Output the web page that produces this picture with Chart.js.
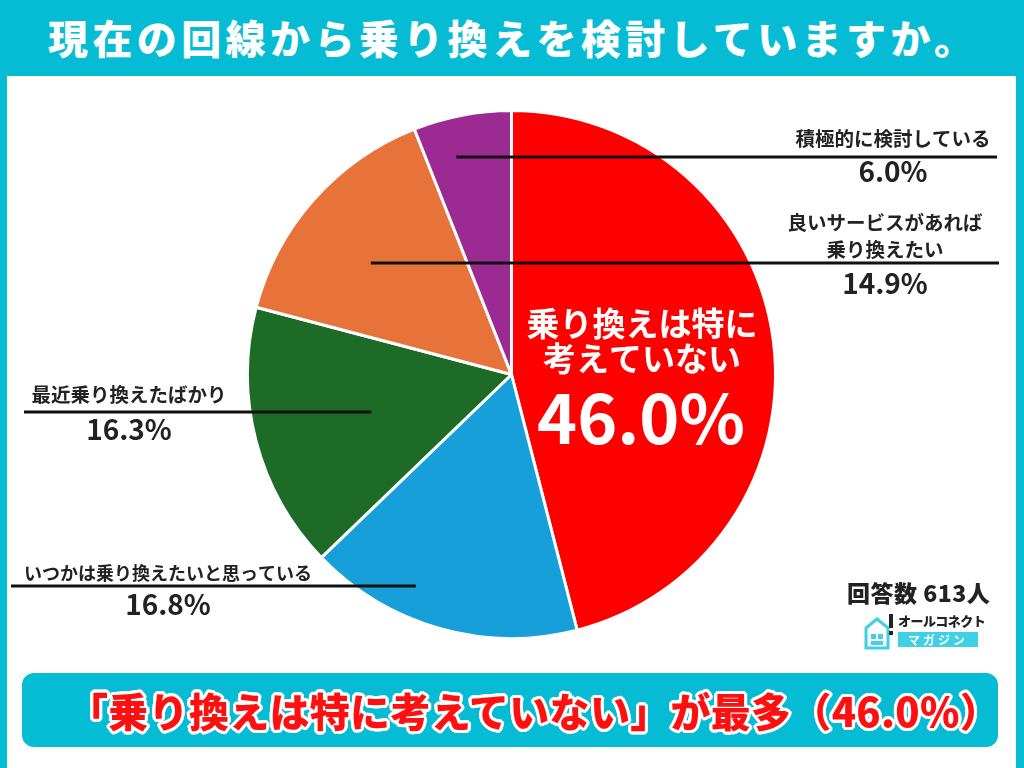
<!DOCTYPE html>
<html lang="ja">
<head>
<meta charset="utf-8">
<script src="https://cdn.jsdelivr.net/npm/chart.js@4"></script>
<style>
  html, body { margin: 0; padding: 0; }
  body {
    width: 1024px; height: 768px; overflow: hidden; position: relative;
    background: #06bcd4;
    font-family: "Noto Sans CJK JP", "Noto Sans", sans-serif;
  }
  .title {
    position: absolute; left: 48px; top: 14px; height: 46px; line-height: 46px;
    color: #fff; font-size: 40px; font-weight: 900; letter-spacing: 4.4px; white-space: nowrap;
  }
  .panel {
    position: absolute; left: 7px; top: 76px; width: 1009px; height: 692px; background: #fff;
  }
  #pie { position: absolute; left: 0; top: 0; }
  .count {
    position: absolute; left: 847px; top: 575px; font-size: 23px; font-weight: 900; color: #222;
    white-space: nowrap; letter-spacing: 0.5px;
  }
  .logo { position: absolute; left: 863px; top: 612px; width: 120px; height: 40px; }
  .logo .t1 {
    position: absolute; left: 35px; top: 1px; font-size: 13px; font-weight: 900; color: #222;
    letter-spacing: -0.5px; white-space: nowrap; line-height: 16px;
  }
  .logo .t2 {
    position: absolute; left: 35px; top: 20px; width: 80px; height: 15px; background: #3fd0e6;
    color: #fff; font-size: 12px; font-weight: 700; line-height: 15px; text-align: center; letter-spacing: 3px;
  }
  .callout {
    position: absolute; left: 22px; top: 673px; width: 976px; height: 74px; background: #06bcd4;
    border-radius: 12px;
  }
  .callout span {
    position: absolute; left: 46px; top: 12px; line-height: 50px; font-size: 40px; font-weight: 900;
    color: #ff1010; white-space: nowrap; letter-spacing: 0.3px;
    text-shadow: 3px 0 0 #fff, -3px 0 0 #fff, 0 3px 0 #fff, 0 -3px 0 #fff,
      2px 2px 0 #fff, -2px 2px 0 #fff, 2px -2px 0 #fff, -2px -2px 0 #fff,
      3px 1px 0 #fff, -3px 1px 0 #fff, 3px -1px 0 #fff, -3px -1px 0 #fff,
      1px 3px 0 #fff, -1px 3px 0 #fff, 1px -3px 0 #fff, -1px -3px 0 #fff;
  }
</style>
</head>
<body>
<div class="title">現在の回線から乗り換えを検討していますか。</div>
<div class="panel"></div>
<canvas id="pie" width="1024" height="768"></canvas>
<div class="count">回答数 613人</div>
<div class="logo">
  <svg width="32" height="38" viewBox="0 0 32 38">
    <path d="M3 36 V16 L14 7 L25 16 V36 Z" fill="none" stroke="#3fd0e6" stroke-width="3"/>
    <rect x="8" y="22" width="5" height="5" fill="#3fd0e6"/>
    <rect x="15" y="22" width="5" height="5" fill="#3fd0e6"/>
    <rect x="8" y="29" width="12" height="4" fill="#3fd0e6"/>
    <rect x="26" y="2" width="4" height="14" fill="#222"/>
    <rect x="26" y="19" width="4" height="4" fill="#222"/>
  </svg>
  <div class="t1">オールコネクト</div>
  <div class="t2">マガジン</div>
</div>
<div class="callout"><span>「乗り換えは特に考えていない」が最多（46.0%）</span></div>

<script>
// Answers, clockwise from 12 o'clock
const categories = ['乗り換えは特に考えていない', 'いつかは乗り換えたいと思っている', '最近乗り換えたばかり', '良いサービスがあれば乗り換えたい', '積極的に検討している'];
const shares = [46.0, 16.8, 16.3, 14.9, 6.0];
const sliceColors = ['#ff0000', '#179fd9', '#1d6b27', '#e8733a', '#9c2a93'];

// how each category is broken into lines on the chart
const labelLines = [
    ['乗り換えは特に', '考えていない'],
    ['いつかは乗り換えたいと思っている'],
    ['最近乗り換えたばかり'],
    ['良いサービスがあれば', '乗り換えたい'],
    ['積極的に検討している']
];

// leader line placement (anchor along slice, radius fraction, end x, text x, offsets)
const callouts = {
    1: { f: 0.64, rf: 0.88, endX: 11, textX: 168, catDy: -13, pctDy: 18 },
    2: { f: 0.49, rf: 0.55, endX: 24, textX: 129, catDy: -17, pctDy: 17 },
    3: { f: 0.44, rf: 0.68, endX: 999, textX: 885, catDy: -13, pctDy: 20 },
    4: { f: 0.34, rf: 0.85, endX: 997, textX: 893, catDy: -18, pctDy: 14 }
};

const FONT = '"Noto Sans CJK JP", "Noto Sans", sans-serif';
const pct = v => v.toFixed(1) + '%';

const labelPlugin = {
    id: 'pieLabels',
    afterDraw(chart) {
        const ctx = chart.ctx;
        const arcs = chart.getDatasetMeta(0).data;
        ctx.save();
        ctx.textAlign = 'center';
        ctx.textBaseline = 'middle';

        Object.keys(callouts).forEach(k => {
            const i = Number(k);
            const c = callouts[i];
            const a = arcs[i].getProps(['x', 'y', 'startAngle', 'endAngle', 'outerRadius'], true);
            const ang = a.startAngle + (a.endAngle - a.startAngle) * c.f;
            const px = a.x + Math.cos(ang) * a.outerRadius * c.rf;
            const py = Math.round(a.y + Math.sin(ang) * a.outerRadius * c.rf);

            ctx.strokeStyle = '#111';
            ctx.lineWidth = 3;
            ctx.beginPath();
            ctx.moveTo(px, py);
            ctx.lineTo(c.endX, py);
            ctx.stroke();

            ctx.fillStyle = '#222';
            const lines = labelLines[i];
            const fs = i === 1 ? 18 : 19.5;
            ctx.font = '700 ' + fs + 'px ' + FONT;
            lines.forEach((t, j) => {
                const y = py + c.catDy - (lines.length - 1 - j) * 27.5;
                ctx.fillText(t, c.textX, y);
            });
            ctx.font = '700 28px ' + FONT;
            ctx.fillText(pct(shares[i]), c.textX, py + c.pctDy);
        });

        // big label inside the largest slice
        ctx.fillStyle = '#fff';
        ctx.font = '700 33px ' + FONT;
        ctx.fillText(labelLines[0][0], 642, 323);
        ctx.fillText(labelLines[0][1], 642, 358);
        ctx.font = '700 68px ' + FONT;
        ctx.fillText(pct(shares[0]), 641, 418);
        ctx.restore();
    }
};

new Chart(document.getElementById('pie'), {
    type: 'pie',
    data: {
        labels: categories,
        datasets: [{
            data: shares,
            backgroundColor: sliceColors,
            borderColor: '#ffffff',
            borderWidth: 3
        }]
    },
    options: {
        responsive: false,
        animation: false,
        layout: { padding: { left: 246, right: 247, top: 109, bottom: 128 } },
        plugins: {
            legend: { display: false },
            tooltip: { enabled: false }
        }
    },
    plugins: [labelPlugin]
});
</script>
</body>
</html>
